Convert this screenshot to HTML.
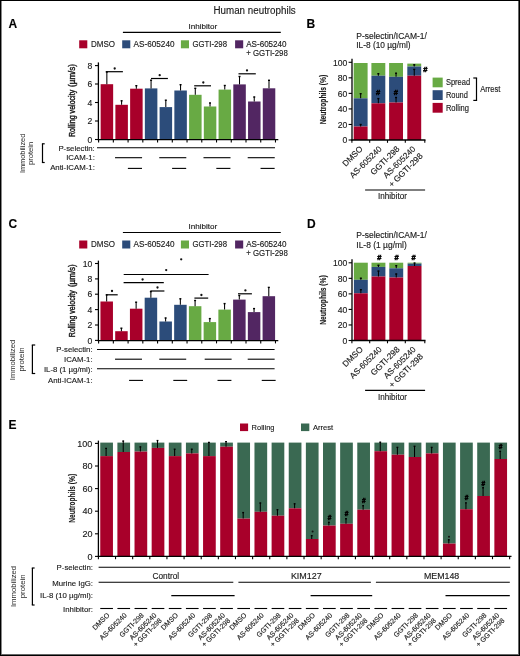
<!DOCTYPE html>
<html><head><meta charset="utf-8"><style>
html,body{margin:0;padding:0;background:#fff;}
#f{position:relative;width:520px;height:656px;overflow:hidden;background:#fff;}
#f svg{position:absolute;left:0;top:0;filter:blur(0.3px);}
text{font-family:"Liberation Sans", sans-serif;stroke:#1a1a1a;stroke-width:0.14px;} text.lt{stroke:none;} text.bd{stroke-width:0.4px;} text.hs{stroke:#000;stroke-width:0.5px;}
#bt{position:absolute;left:0;top:0;width:520px;height:1px;background:#000;}
#bl{position:absolute;left:0;top:0;width:1px;height:656px;background:#000;}
#bl2{position:absolute;left:1px;top:0;width:1px;height:656px;background:#888;}
#br{position:absolute;right:0;top:0;width:1px;height:656px;background:#000;}
#br2{position:absolute;right:1px;top:0;width:1px;height:656px;background:#666;}
#bb{position:absolute;left:0;bottom:0;width:520px;height:1px;background:#000;}
#bb2{position:absolute;left:0;bottom:1px;width:520px;height:1px;background:#666;}
</style></head><body><div id="f">
<svg width="520" height="656" viewBox="0 0 520 656">
<text x="8.60" y="27.60" font-size="12" text-anchor="start" fill="#000" font-weight="bold">A</text>
<text x="213.50" y="13.60" font-size="10" text-anchor="start" fill="#1a1a1a" textLength="82.20" lengthAdjust="spacingAndGlyphs">Human neutrophils</text>
<text x="188.50" y="28.90" font-size="8" text-anchor="start" fill="#1a1a1a" textLength="28.80" lengthAdjust="spacingAndGlyphs">Inhibitor</text>
<line x1="122.90" y1="32.30" x2="280.80" y2="32.30" stroke="#000" stroke-width="1.2"/>
<rect x="79.20" y="40.30" width="8.10" height="8.00" fill="#a8002a"/>
<rect x="122.20" y="40.30" width="8.10" height="8.00" fill="#2c4c7a"/>
<rect x="180.90" y="40.30" width="8.10" height="8.00" fill="#68aa44"/>
<rect x="235.10" y="40.30" width="8.10" height="8.00" fill="#522662"/>
<text x="91.00" y="47.10" font-size="8.5" text-anchor="start" fill="#1a1a1a" textLength="24.00" lengthAdjust="spacingAndGlyphs">DMSO</text>
<text x="133.50" y="47.10" font-size="8.5" text-anchor="start" fill="#1a1a1a" textLength="41.00" lengthAdjust="spacingAndGlyphs">AS-605240</text>
<text x="192.40" y="47.10" font-size="8.5" text-anchor="start" fill="#1a1a1a" textLength="34.60" lengthAdjust="spacingAndGlyphs">GGTI-298</text>
<text x="246.20" y="47.10" font-size="8.5" text-anchor="start" fill="#1a1a1a" textLength="40.40" lengthAdjust="spacingAndGlyphs">AS-605240</text>
<text x="246.20" y="56.10" font-size="8.5" text-anchor="start" fill="#1a1a1a" textLength="41.60" lengthAdjust="spacingAndGlyphs">+ GGTI-298</text>
<rect x="100.65" y="84.20" width="12.50" height="55.50" fill="#a8002a"/>
<rect x="115.39" y="104.80" width="12.50" height="34.90" fill="#a8002a"/>
<rect x="130.13" y="88.70" width="12.50" height="51.00" fill="#a8002a"/>
<rect x="144.87" y="88.40" width="12.50" height="51.30" fill="#2c4c7a"/>
<rect x="159.61" y="107.10" width="12.50" height="32.60" fill="#2c4c7a"/>
<rect x="174.35" y="90.50" width="12.50" height="49.20" fill="#2c4c7a"/>
<rect x="189.09" y="94.80" width="12.50" height="44.90" fill="#68aa44"/>
<rect x="203.83" y="106.50" width="12.50" height="33.20" fill="#68aa44"/>
<rect x="218.57" y="89.60" width="12.50" height="50.10" fill="#68aa44"/>
<rect x="233.31" y="84.40" width="12.50" height="55.30" fill="#522662"/>
<rect x="248.05" y="101.50" width="12.50" height="38.20" fill="#522662"/>
<rect x="262.79" y="88.30" width="12.50" height="51.40" fill="#522662"/>
<line x1="106.85" y1="84.20" x2="106.85" y2="71.70" stroke="#000" stroke-width="1.05"/>
<line x1="105.85" y1="72.00" x2="107.85" y2="72.00" stroke="#000" stroke-width="1.4"/>
<line x1="121.59" y1="104.80" x2="121.59" y2="100.50" stroke="#000" stroke-width="1.05"/>
<line x1="120.59" y1="100.80" x2="122.59" y2="100.80" stroke="#000" stroke-width="1.4"/>
<line x1="136.33" y1="88.70" x2="136.33" y2="85.40" stroke="#000" stroke-width="1.05"/>
<line x1="135.33" y1="85.70" x2="137.33" y2="85.70" stroke="#000" stroke-width="1.4"/>
<line x1="151.07" y1="88.40" x2="151.07" y2="79.90" stroke="#000" stroke-width="1.05"/>
<line x1="150.07" y1="80.20" x2="152.07" y2="80.20" stroke="#000" stroke-width="1.4"/>
<line x1="165.81" y1="107.10" x2="165.81" y2="99.90" stroke="#000" stroke-width="1.05"/>
<line x1="164.81" y1="100.20" x2="166.81" y2="100.20" stroke="#000" stroke-width="1.4"/>
<line x1="180.55" y1="90.50" x2="180.55" y2="84.40" stroke="#000" stroke-width="1.05"/>
<line x1="179.55" y1="84.70" x2="181.55" y2="84.70" stroke="#000" stroke-width="1.4"/>
<line x1="195.29" y1="94.80" x2="195.29" y2="88.00" stroke="#000" stroke-width="1.05"/>
<line x1="194.29" y1="88.30" x2="196.29" y2="88.30" stroke="#000" stroke-width="1.4"/>
<line x1="210.03" y1="106.50" x2="210.03" y2="102.70" stroke="#000" stroke-width="1.05"/>
<line x1="209.03" y1="103.00" x2="211.03" y2="103.00" stroke="#000" stroke-width="1.4"/>
<line x1="224.77" y1="89.60" x2="224.77" y2="85.20" stroke="#000" stroke-width="1.05"/>
<line x1="223.77" y1="85.50" x2="225.77" y2="85.50" stroke="#000" stroke-width="1.4"/>
<line x1="239.51" y1="84.40" x2="239.51" y2="76.20" stroke="#000" stroke-width="1.05"/>
<line x1="238.51" y1="76.50" x2="240.51" y2="76.50" stroke="#000" stroke-width="1.4"/>
<line x1="254.25" y1="101.50" x2="254.25" y2="96.70" stroke="#000" stroke-width="1.05"/>
<line x1="253.25" y1="97.00" x2="255.25" y2="97.00" stroke="#000" stroke-width="1.4"/>
<line x1="268.99" y1="88.30" x2="268.99" y2="80.00" stroke="#000" stroke-width="1.05"/>
<line x1="267.99" y1="80.30" x2="269.99" y2="80.30" stroke="#000" stroke-width="1.4"/>
<line x1="98.40" y1="62.40" x2="98.40" y2="140.30" stroke="#000" stroke-width="1.3"/>
<line x1="97.80" y1="139.70" x2="278.30" y2="139.70" stroke="#000" stroke-width="1.3"/>
<line x1="95.00" y1="65.60" x2="98.40" y2="65.60" stroke="#000" stroke-width="1.1"/>
<text x="92.20" y="68.70" font-size="8.6" text-anchor="end" fill="#1a1a1a">8</text>
<line x1="95.00" y1="84.00" x2="98.40" y2="84.00" stroke="#000" stroke-width="1.1"/>
<text x="92.20" y="87.10" font-size="8.6" text-anchor="end" fill="#1a1a1a">6</text>
<line x1="95.00" y1="102.50" x2="98.40" y2="102.50" stroke="#000" stroke-width="1.1"/>
<text x="92.20" y="105.60" font-size="8.6" text-anchor="end" fill="#1a1a1a">4</text>
<line x1="95.00" y1="121.00" x2="98.40" y2="121.00" stroke="#000" stroke-width="1.1"/>
<text x="92.20" y="124.10" font-size="8.6" text-anchor="end" fill="#1a1a1a">2</text>
<line x1="95.00" y1="139.50" x2="98.40" y2="139.50" stroke="#000" stroke-width="1.1"/>
<text x="92.20" y="142.60" font-size="8.6" text-anchor="end" fill="#1a1a1a">0</text>
<line x1="98.60" y1="139.70" x2="98.60" y2="142.50" stroke="#000" stroke-width="1.1"/>
<line x1="113.34" y1="139.70" x2="113.34" y2="142.50" stroke="#000" stroke-width="1.1"/>
<line x1="128.08" y1="139.70" x2="128.08" y2="142.50" stroke="#000" stroke-width="1.1"/>
<line x1="142.82" y1="139.70" x2="142.82" y2="142.50" stroke="#000" stroke-width="1.1"/>
<line x1="157.56" y1="139.70" x2="157.56" y2="142.50" stroke="#000" stroke-width="1.1"/>
<line x1="172.30" y1="139.70" x2="172.30" y2="142.50" stroke="#000" stroke-width="1.1"/>
<line x1="187.04" y1="139.70" x2="187.04" y2="142.50" stroke="#000" stroke-width="1.1"/>
<line x1="201.78" y1="139.70" x2="201.78" y2="142.50" stroke="#000" stroke-width="1.1"/>
<line x1="216.52" y1="139.70" x2="216.52" y2="142.50" stroke="#000" stroke-width="1.1"/>
<line x1="231.26" y1="139.70" x2="231.26" y2="142.50" stroke="#000" stroke-width="1.1"/>
<line x1="246.00" y1="139.70" x2="246.00" y2="142.50" stroke="#000" stroke-width="1.1"/>
<line x1="260.74" y1="139.70" x2="260.74" y2="142.50" stroke="#000" stroke-width="1.1"/>
<line x1="275.48" y1="139.70" x2="275.48" y2="142.50" stroke="#000" stroke-width="1.1"/>
<line x1="105.80" y1="71.70" x2="122.90" y2="71.70" stroke="#000" stroke-width="1.2"/>
<circle cx="114.70" cy="68.50" r="1.15" fill="#111"/>
<line x1="151.00" y1="78.50" x2="167.90" y2="78.50" stroke="#000" stroke-width="1.2"/>
<circle cx="159.70" cy="75.20" r="1.15" fill="#111"/>
<line x1="194.20" y1="85.80" x2="211.00" y2="85.80" stroke="#000" stroke-width="1.2"/>
<circle cx="203.30" cy="82.50" r="1.15" fill="#111"/>
<line x1="238.50" y1="73.80" x2="255.80" y2="73.80" stroke="#000" stroke-width="1.2"/>
<circle cx="247.00" cy="70.40" r="1.15" fill="#111"/>
<text transform="translate(75.20,137.00) rotate(-90)" font-size="8.8" text-anchor="start" fill="#1a1a1a" class="bd" textLength="47.20" lengthAdjust="spacingAndGlyphs">Rolling velocity</text>
<text transform="translate(75.20,86.90) rotate(-90)" font-size="8.8" text-anchor="start" fill="#1a1a1a" class="bd" textLength="22.90" lengthAdjust="spacingAndGlyphs">(µm/s)</text>
<text transform="translate(25.40,153.40) rotate(-90)" font-size="7.6" text-anchor="middle" fill="#2a2a2a" class="lt" textLength="39.40" lengthAdjust="spacingAndGlyphs">Immobilized</text>
<text transform="translate(33.40,153.40) rotate(-90)" font-size="7.0" text-anchor="middle" fill="#2a2a2a" class="lt" textLength="23.40" lengthAdjust="spacingAndGlyphs">protein</text>
<line x1="42.50" y1="143.80" x2="42.50" y2="162.50" stroke="#000" stroke-width="1.2"/>
<line x1="41.90" y1="143.80" x2="44.70" y2="143.80" stroke="#000" stroke-width="1.2"/>
<line x1="41.90" y1="162.50" x2="44.70" y2="162.50" stroke="#000" stroke-width="1.2"/>
<text x="94.80" y="150.50" font-size="7.8" text-anchor="end" fill="#1a1a1a">P-selectin:</text>
<text x="94.80" y="160.40" font-size="7.8" text-anchor="end" fill="#1a1a1a">ICAM-1:</text>
<text x="94.80" y="170.20" font-size="7.8" text-anchor="end" fill="#1a1a1a">Anti-ICAM-1:</text>
<line x1="97.00" y1="147.70" x2="275.00" y2="147.70" stroke="#000" stroke-width="1.1"/>
<line x1="115.04" y1="157.70" x2="142.08" y2="157.70" stroke="#000" stroke-width="1.1"/>
<line x1="127.88" y1="168.40" x2="141.98" y2="168.40" stroke="#000" stroke-width="1.1"/>
<line x1="159.26" y1="157.70" x2="186.30" y2="157.70" stroke="#000" stroke-width="1.1"/>
<line x1="172.10" y1="168.40" x2="186.20" y2="168.40" stroke="#000" stroke-width="1.1"/>
<line x1="203.48" y1="157.70" x2="230.52" y2="157.70" stroke="#000" stroke-width="1.1"/>
<line x1="216.32" y1="168.40" x2="230.42" y2="168.40" stroke="#000" stroke-width="1.1"/>
<line x1="247.70" y1="157.70" x2="274.74" y2="157.70" stroke="#000" stroke-width="1.1"/>
<line x1="260.54" y1="168.40" x2="274.64" y2="168.40" stroke="#000" stroke-width="1.1"/>
<text x="8.60" y="228.20" font-size="12" text-anchor="start" fill="#000" font-weight="bold">C</text>
<text x="188.50" y="229.10" font-size="8" text-anchor="start" fill="#1a1a1a" textLength="28.80" lengthAdjust="spacingAndGlyphs">Inhibitor</text>
<line x1="122.90" y1="232.50" x2="280.80" y2="232.50" stroke="#000" stroke-width="1.2"/>
<rect x="79.20" y="240.50" width="8.10" height="8.00" fill="#a8002a"/>
<rect x="122.20" y="240.50" width="8.10" height="8.00" fill="#2c4c7a"/>
<rect x="180.90" y="240.50" width="8.10" height="8.00" fill="#68aa44"/>
<rect x="235.10" y="240.50" width="8.10" height="8.00" fill="#522662"/>
<text x="91.00" y="247.30" font-size="8.5" text-anchor="start" fill="#1a1a1a" textLength="24.00" lengthAdjust="spacingAndGlyphs">DMSO</text>
<text x="133.50" y="247.30" font-size="8.5" text-anchor="start" fill="#1a1a1a" textLength="41.00" lengthAdjust="spacingAndGlyphs">AS-605240</text>
<text x="192.40" y="247.30" font-size="8.5" text-anchor="start" fill="#1a1a1a" textLength="34.60" lengthAdjust="spacingAndGlyphs">GGTI-298</text>
<text x="246.20" y="247.30" font-size="8.5" text-anchor="start" fill="#1a1a1a" textLength="40.40" lengthAdjust="spacingAndGlyphs">AS-605240</text>
<text x="246.20" y="256.30" font-size="8.5" text-anchor="start" fill="#1a1a1a" textLength="41.60" lengthAdjust="spacingAndGlyphs">+ GGTI-298</text>
<rect x="100.45" y="301.50" width="12.50" height="39.10" fill="#a8002a"/>
<rect x="115.19" y="331.20" width="12.50" height="9.40" fill="#a8002a"/>
<rect x="129.93" y="308.70" width="12.50" height="31.90" fill="#a8002a"/>
<rect x="144.67" y="297.70" width="12.50" height="42.90" fill="#2c4c7a"/>
<rect x="159.41" y="321.50" width="12.50" height="19.10" fill="#2c4c7a"/>
<rect x="174.15" y="304.80" width="12.50" height="35.80" fill="#2c4c7a"/>
<rect x="188.89" y="306.20" width="12.50" height="34.40" fill="#68aa44"/>
<rect x="203.63" y="322.10" width="12.50" height="18.50" fill="#68aa44"/>
<rect x="218.37" y="309.60" width="12.50" height="31.00" fill="#68aa44"/>
<rect x="233.11" y="299.60" width="12.50" height="41.00" fill="#522662"/>
<rect x="247.85" y="312.10" width="12.50" height="28.50" fill="#522662"/>
<rect x="262.59" y="296.20" width="12.50" height="44.40" fill="#522662"/>
<line x1="106.65" y1="301.50" x2="106.65" y2="294.60" stroke="#000" stroke-width="1.05"/>
<line x1="105.65" y1="294.90" x2="107.65" y2="294.90" stroke="#000" stroke-width="1.4"/>
<line x1="121.39" y1="331.20" x2="121.39" y2="327.90" stroke="#000" stroke-width="1.05"/>
<line x1="120.39" y1="328.20" x2="122.39" y2="328.20" stroke="#000" stroke-width="1.4"/>
<line x1="136.13" y1="308.70" x2="136.13" y2="301.90" stroke="#000" stroke-width="1.05"/>
<line x1="135.13" y1="302.20" x2="137.13" y2="302.20" stroke="#000" stroke-width="1.4"/>
<line x1="150.87" y1="297.70" x2="150.87" y2="291.30" stroke="#000" stroke-width="1.05"/>
<line x1="149.87" y1="291.60" x2="151.87" y2="291.60" stroke="#000" stroke-width="1.4"/>
<line x1="165.61" y1="321.50" x2="165.61" y2="317.70" stroke="#000" stroke-width="1.05"/>
<line x1="164.61" y1="318.00" x2="166.61" y2="318.00" stroke="#000" stroke-width="1.4"/>
<line x1="180.35" y1="304.80" x2="180.35" y2="298.50" stroke="#000" stroke-width="1.05"/>
<line x1="179.35" y1="298.80" x2="181.35" y2="298.80" stroke="#000" stroke-width="1.4"/>
<line x1="195.09" y1="306.20" x2="195.09" y2="300.20" stroke="#000" stroke-width="1.05"/>
<line x1="194.09" y1="300.50" x2="196.09" y2="300.50" stroke="#000" stroke-width="1.4"/>
<line x1="209.83" y1="322.10" x2="209.83" y2="318.30" stroke="#000" stroke-width="1.05"/>
<line x1="208.83" y1="318.60" x2="210.83" y2="318.60" stroke="#000" stroke-width="1.4"/>
<line x1="224.57" y1="309.60" x2="224.57" y2="303.30" stroke="#000" stroke-width="1.05"/>
<line x1="223.57" y1="303.60" x2="225.57" y2="303.60" stroke="#000" stroke-width="1.4"/>
<line x1="239.31" y1="299.60" x2="239.31" y2="295.20" stroke="#000" stroke-width="1.05"/>
<line x1="238.31" y1="295.50" x2="240.31" y2="295.50" stroke="#000" stroke-width="1.4"/>
<line x1="254.05" y1="312.10" x2="254.05" y2="308.30" stroke="#000" stroke-width="1.05"/>
<line x1="253.05" y1="308.60" x2="255.05" y2="308.60" stroke="#000" stroke-width="1.4"/>
<line x1="268.79" y1="296.20" x2="268.79" y2="287.10" stroke="#000" stroke-width="1.05"/>
<line x1="267.79" y1="287.40" x2="269.79" y2="287.40" stroke="#000" stroke-width="1.4"/>
<line x1="98.40" y1="260.60" x2="98.40" y2="341.20" stroke="#000" stroke-width="1.3"/>
<line x1="97.80" y1="340.60" x2="278.30" y2="340.60" stroke="#000" stroke-width="1.3"/>
<line x1="95.00" y1="263.50" x2="98.40" y2="263.50" stroke="#000" stroke-width="1.1"/>
<text x="92.20" y="266.60" font-size="8.6" text-anchor="end" fill="#1a1a1a">10</text>
<line x1="95.00" y1="278.90" x2="98.40" y2="278.90" stroke="#000" stroke-width="1.1"/>
<text x="92.20" y="282.00" font-size="8.6" text-anchor="end" fill="#1a1a1a">8</text>
<line x1="95.00" y1="294.20" x2="98.40" y2="294.20" stroke="#000" stroke-width="1.1"/>
<text x="92.20" y="297.30" font-size="8.6" text-anchor="end" fill="#1a1a1a">6</text>
<line x1="95.00" y1="309.60" x2="98.40" y2="309.60" stroke="#000" stroke-width="1.1"/>
<text x="92.20" y="312.70" font-size="8.6" text-anchor="end" fill="#1a1a1a">4</text>
<line x1="95.00" y1="325.00" x2="98.40" y2="325.00" stroke="#000" stroke-width="1.1"/>
<text x="92.20" y="328.10" font-size="8.6" text-anchor="end" fill="#1a1a1a">2</text>
<line x1="95.00" y1="340.40" x2="98.40" y2="340.40" stroke="#000" stroke-width="1.1"/>
<text x="92.20" y="343.50" font-size="8.6" text-anchor="end" fill="#1a1a1a">0</text>
<line x1="98.60" y1="340.60" x2="98.60" y2="343.40" stroke="#000" stroke-width="1.1"/>
<line x1="113.34" y1="340.60" x2="113.34" y2="343.40" stroke="#000" stroke-width="1.1"/>
<line x1="128.08" y1="340.60" x2="128.08" y2="343.40" stroke="#000" stroke-width="1.1"/>
<line x1="142.82" y1="340.60" x2="142.82" y2="343.40" stroke="#000" stroke-width="1.1"/>
<line x1="157.56" y1="340.60" x2="157.56" y2="343.40" stroke="#000" stroke-width="1.1"/>
<line x1="172.30" y1="340.60" x2="172.30" y2="343.40" stroke="#000" stroke-width="1.1"/>
<line x1="187.04" y1="340.60" x2="187.04" y2="343.40" stroke="#000" stroke-width="1.1"/>
<line x1="201.78" y1="340.60" x2="201.78" y2="343.40" stroke="#000" stroke-width="1.1"/>
<line x1="216.52" y1="340.60" x2="216.52" y2="343.40" stroke="#000" stroke-width="1.1"/>
<line x1="231.26" y1="340.60" x2="231.26" y2="343.40" stroke="#000" stroke-width="1.1"/>
<line x1="246.00" y1="340.60" x2="246.00" y2="343.40" stroke="#000" stroke-width="1.1"/>
<line x1="260.74" y1="340.60" x2="260.74" y2="343.40" stroke="#000" stroke-width="1.1"/>
<line x1="275.48" y1="340.60" x2="275.48" y2="343.40" stroke="#000" stroke-width="1.1"/>
<line x1="106.20" y1="294.80" x2="117.70" y2="294.80" stroke="#000" stroke-width="1.2"/>
<circle cx="112.00" cy="291.00" r="1.15" fill="#111"/>
<line x1="150.40" y1="291.00" x2="164.40" y2="291.00" stroke="#000" stroke-width="1.2"/>
<circle cx="157.50" cy="287.50" r="1.15" fill="#111"/>
<line x1="194.40" y1="298.10" x2="208.20" y2="298.10" stroke="#000" stroke-width="1.2"/>
<circle cx="201.40" cy="295.00" r="1.15" fill="#111"/>
<line x1="238.00" y1="293.80" x2="251.90" y2="293.80" stroke="#000" stroke-width="1.2"/>
<circle cx="245.40" cy="290.40" r="1.15" fill="#111"/>
<line x1="123.70" y1="274.50" x2="208.60" y2="274.50" stroke="#000" stroke-width="1.2"/>
<circle cx="166.20" cy="270.10" r="1.15" fill="#111"/>
<line x1="123.60" y1="282.60" x2="163.80" y2="282.60" stroke="#000" stroke-width="1.2"/>
<circle cx="142.60" cy="279.50" r="1.15" fill="#111"/>
<circle cx="181.20" cy="259.30" r="1.15" fill="#111"/>
<text transform="translate(75.20,337.20) rotate(-90)" font-size="8.8" text-anchor="start" fill="#1a1a1a" class="bd" textLength="47.00" lengthAdjust="spacingAndGlyphs">Rolling velocity</text>
<text transform="translate(75.20,287.10) rotate(-90)" font-size="8.8" text-anchor="start" fill="#1a1a1a" class="bd" textLength="22.90" lengthAdjust="spacingAndGlyphs">(µm/s)</text>
<text transform="translate(15.20,360.00) rotate(-90)" font-size="7.6" text-anchor="middle" fill="#2a2a2a" class="lt" textLength="40.40" lengthAdjust="spacingAndGlyphs">Immobilized</text>
<text transform="translate(24.00,359.50) rotate(-90)" font-size="7.0" text-anchor="middle" fill="#2a2a2a" class="lt" textLength="24.00" lengthAdjust="spacingAndGlyphs">protein</text>
<line x1="32.40" y1="345.00" x2="32.40" y2="373.50" stroke="#000" stroke-width="1.2"/>
<line x1="31.80" y1="345.00" x2="35.20" y2="345.00" stroke="#000" stroke-width="1.2"/>
<line x1="31.80" y1="373.50" x2="35.20" y2="373.50" stroke="#000" stroke-width="1.2"/>
<text x="92.60" y="352.20" font-size="7.8" text-anchor="end" fill="#1a1a1a">P-selectin:</text>
<text x="92.60" y="361.90" font-size="7.8" text-anchor="end" fill="#1a1a1a">ICAM-1:</text>
<text x="92.60" y="372.40" font-size="7.8" text-anchor="end" fill="#1a1a1a">IL-8 (1 µg/ml):</text>
<text x="92.60" y="383.00" font-size="7.8" text-anchor="end" fill="#1a1a1a">Anti-ICAM-1:</text>
<line x1="97.00" y1="349.50" x2="274.60" y2="349.50" stroke="#000" stroke-width="1.1"/>
<line x1="97.00" y1="368.80" x2="274.60" y2="368.80" stroke="#000" stroke-width="1.1"/>
<line x1="115.04" y1="359.20" x2="141.98" y2="359.20" stroke="#000" stroke-width="1.1"/>
<line x1="129.08" y1="380.40" x2="142.98" y2="380.40" stroke="#000" stroke-width="1.1"/>
<line x1="159.26" y1="359.20" x2="186.20" y2="359.20" stroke="#000" stroke-width="1.1"/>
<line x1="173.30" y1="380.40" x2="187.20" y2="380.40" stroke="#000" stroke-width="1.1"/>
<line x1="204.68" y1="359.20" x2="231.62" y2="359.20" stroke="#000" stroke-width="1.1"/>
<line x1="217.52" y1="380.40" x2="231.42" y2="380.40" stroke="#000" stroke-width="1.1"/>
<line x1="247.70" y1="359.20" x2="274.64" y2="359.20" stroke="#000" stroke-width="1.1"/>
<line x1="261.74" y1="380.40" x2="275.64" y2="380.40" stroke="#000" stroke-width="1.1"/>
<text x="306.50" y="27.60" font-size="12" text-anchor="start" fill="#000" font-weight="bold">B</text>
<rect x="353.70" y="63.00" width="13.90" height="35.30" fill="#68aa44"/>
<rect x="353.70" y="98.30" width="13.90" height="28.20" fill="#2c4c7a"/>
<rect x="353.70" y="126.50" width="13.90" height="13.50" fill="#a8002a"/>
<rect x="371.40" y="63.00" width="13.90" height="12.70" fill="#68aa44"/>
<rect x="371.40" y="75.70" width="13.90" height="27.60" fill="#2c4c7a"/>
<rect x="371.40" y="103.30" width="13.90" height="36.70" fill="#a8002a"/>
<rect x="389.10" y="63.00" width="13.90" height="13.80" fill="#68aa44"/>
<rect x="389.10" y="76.80" width="13.90" height="25.70" fill="#2c4c7a"/>
<rect x="389.10" y="102.50" width="13.90" height="37.50" fill="#a8002a"/>
<rect x="407.30" y="63.60" width="13.90" height="2.90" fill="#68aa44"/>
<rect x="407.30" y="66.50" width="13.90" height="9.20" fill="#2c4c7a"/>
<rect x="407.30" y="75.70" width="13.90" height="64.30" fill="#a8002a"/>
<line x1="360.65" y1="126.50" x2="360.65" y2="124.20" stroke="#000" stroke-width="1.05"/>
<line x1="359.65" y1="124.50" x2="361.65" y2="124.50" stroke="#000" stroke-width="1.4"/>
<line x1="360.65" y1="98.30" x2="360.65" y2="93.40" stroke="#000" stroke-width="1.05"/>
<line x1="359.65" y1="93.70" x2="361.65" y2="93.70" stroke="#000" stroke-width="1.4"/>
<line x1="378.35" y1="103.30" x2="378.35" y2="98.30" stroke="#000" stroke-width="1.05"/>
<line x1="377.35" y1="98.60" x2="379.35" y2="98.60" stroke="#000" stroke-width="1.4"/>
<line x1="378.35" y1="75.70" x2="378.35" y2="73.40" stroke="#000" stroke-width="1.05"/>
<line x1="377.35" y1="73.70" x2="379.35" y2="73.70" stroke="#000" stroke-width="1.4"/>
<line x1="396.05" y1="102.50" x2="396.05" y2="97.20" stroke="#000" stroke-width="1.05"/>
<line x1="395.05" y1="97.50" x2="397.05" y2="97.50" stroke="#000" stroke-width="1.4"/>
<line x1="396.05" y1="76.80" x2="396.05" y2="72.90" stroke="#000" stroke-width="1.05"/>
<line x1="395.05" y1="73.20" x2="397.05" y2="73.20" stroke="#000" stroke-width="1.4"/>
<line x1="414.25" y1="75.70" x2="414.25" y2="69.10" stroke="#000" stroke-width="1.05"/>
<line x1="413.25" y1="69.40" x2="415.25" y2="69.40" stroke="#000" stroke-width="1.4"/>
<line x1="414.25" y1="66.50" x2="414.25" y2="64.50" stroke="#000" stroke-width="1.05"/>
<line x1="413.25" y1="64.80" x2="415.25" y2="64.80" stroke="#000" stroke-width="1.4"/>
<text x="378.20" y="95.30" font-size="7.5" text-anchor="middle" fill="#000" class="hs" font-weight="bold">#</text>
<text x="395.90" y="95.30" font-size="7.5" text-anchor="middle" fill="#000" class="hs" font-weight="bold">#</text>
<text x="425.40" y="72.20" font-size="7.5" text-anchor="middle" fill="#000" class="hs" font-weight="bold">#</text>
<line x1="352.00" y1="58.80" x2="352.00" y2="140.60" stroke="#000" stroke-width="1.3"/>
<line x1="351.40" y1="140.00" x2="425.50" y2="140.00" stroke="#000" stroke-width="1.3"/>
<line x1="348.60" y1="140.00" x2="352.00" y2="140.00" stroke="#000" stroke-width="1.1"/>
<text x="347.30" y="143.40" font-size="8.6" text-anchor="end" fill="#1a1a1a">0</text>
<line x1="348.60" y1="124.46" x2="352.00" y2="124.46" stroke="#000" stroke-width="1.1"/>
<text x="347.30" y="127.86" font-size="8.6" text-anchor="end" fill="#1a1a1a">20</text>
<line x1="348.60" y1="108.92" x2="352.00" y2="108.92" stroke="#000" stroke-width="1.1"/>
<text x="347.30" y="112.32" font-size="8.6" text-anchor="end" fill="#1a1a1a">40</text>
<line x1="348.60" y1="93.38" x2="352.00" y2="93.38" stroke="#000" stroke-width="1.1"/>
<text x="347.30" y="96.78" font-size="8.6" text-anchor="end" fill="#1a1a1a">60</text>
<line x1="348.60" y1="77.84" x2="352.00" y2="77.84" stroke="#000" stroke-width="1.1"/>
<text x="347.30" y="81.24" font-size="8.6" text-anchor="end" fill="#1a1a1a">80</text>
<line x1="348.60" y1="62.30" x2="352.00" y2="62.30" stroke="#000" stroke-width="1.1"/>
<text x="347.30" y="65.70" font-size="8.6" text-anchor="end" fill="#1a1a1a">100</text>
<line x1="351.90" y1="140.00" x2="351.90" y2="142.80" stroke="#000" stroke-width="1.1"/>
<line x1="369.70" y1="140.00" x2="369.70" y2="142.80" stroke="#000" stroke-width="1.1"/>
<line x1="387.50" y1="140.00" x2="387.50" y2="142.80" stroke="#000" stroke-width="1.1"/>
<line x1="405.30" y1="140.00" x2="405.30" y2="142.80" stroke="#000" stroke-width="1.1"/>
<line x1="424.80" y1="140.00" x2="424.80" y2="142.80" stroke="#000" stroke-width="1.1"/>
<text transform="translate(326.30,99.50) rotate(-90)" font-size="8.8" text-anchor="middle" fill="#1a1a1a" font-weight="bold" textLength="49.50" lengthAdjust="spacingAndGlyphs">Neutrophils (%)</text>
<text x="356.30" y="38.50" font-size="8.3" text-anchor="start" fill="#1a1a1a" textLength="70.60" lengthAdjust="spacingAndGlyphs">P-selectin/ICAM-1/</text>
<text x="356.30" y="48.10" font-size="8.3" text-anchor="start" fill="#1a1a1a" textLength="54.30" lengthAdjust="spacingAndGlyphs">IL-8 (10 µg/ml)</text>
<text transform="translate(363.25,149.40) rotate(-45)" font-size="8.3" text-anchor="end" fill="#1a1a1a">DMSO</text>
<text transform="translate(382.25,149.40) rotate(-45)" font-size="8.3" text-anchor="end" fill="#1a1a1a">AS-605240</text>
<text transform="translate(399.95,149.40) rotate(-45)" font-size="8.3" text-anchor="end" fill="#1a1a1a">GGTI-298</text>
<text transform="translate(415.95,149.40) rotate(-45)" font-size="8.3" text-anchor="end" fill="#1a1a1a">AS-605240</text>
<text transform="translate(423.15,156.60) rotate(-45)" font-size="8.3" text-anchor="end" fill="#1a1a1a">+ GGTI-298</text>
<line x1="365.10" y1="190.00" x2="425.10" y2="190.00" stroke="#000" stroke-width="1.2"/>
<text x="378.00" y="199.30" font-size="8.2" text-anchor="start" fill="#1a1a1a" textLength="28.90" lengthAdjust="spacingAndGlyphs">Inhibitor</text>
<rect x="432.60" y="77.60" width="10.10" height="9.70" fill="#68aa44"/>
<rect x="432.60" y="90.20" width="10.10" height="9.80" fill="#2c4c7a"/>
<rect x="432.60" y="102.90" width="10.10" height="9.80" fill="#a8002a"/>
<text x="445.90" y="85.30" font-size="8.4" text-anchor="start" fill="#1a1a1a" textLength="24.20" lengthAdjust="spacingAndGlyphs">Spread</text>
<text x="445.90" y="97.80" font-size="8.4" text-anchor="start" fill="#1a1a1a" textLength="21.90" lengthAdjust="spacingAndGlyphs">Round</text>
<text x="445.90" y="110.80" font-size="8.4" text-anchor="start" fill="#1a1a1a" textLength="23.10" lengthAdjust="spacingAndGlyphs">Rolling</text>
<line x1="476.50" y1="78.00" x2="476.50" y2="100.40" stroke="#000" stroke-width="1.2"/>
<line x1="473.30" y1="78.00" x2="477.10" y2="78.00" stroke="#000" stroke-width="1.2"/>
<line x1="473.30" y1="100.40" x2="477.10" y2="100.40" stroke="#000" stroke-width="1.2"/>
<text x="480.20" y="92.00" font-size="8.4" text-anchor="start" fill="#1a1a1a" textLength="20.20" lengthAdjust="spacingAndGlyphs">Arrest</text>
<text x="306.90" y="228.20" font-size="12" text-anchor="start" fill="#000" font-weight="bold">D</text>
<rect x="353.90" y="262.70" width="13.90" height="17.10" fill="#68aa44"/>
<rect x="353.90" y="279.80" width="13.90" height="13.50" fill="#2c4c7a"/>
<rect x="353.90" y="293.30" width="13.90" height="47.20" fill="#a8002a"/>
<rect x="371.50" y="262.70" width="13.90" height="4.20" fill="#68aa44"/>
<rect x="371.50" y="266.90" width="13.90" height="9.60" fill="#2c4c7a"/>
<rect x="371.50" y="276.50" width="13.90" height="64.00" fill="#a8002a"/>
<rect x="389.30" y="262.70" width="13.90" height="5.60" fill="#68aa44"/>
<rect x="389.30" y="268.30" width="13.90" height="9.20" fill="#2c4c7a"/>
<rect x="389.30" y="277.50" width="13.90" height="63.00" fill="#a8002a"/>
<rect x="407.60" y="262.70" width="13.90" height="0.90" fill="#68aa44"/>
<rect x="407.60" y="263.60" width="13.90" height="2.40" fill="#2c4c7a"/>
<rect x="407.60" y="266.00" width="13.90" height="74.50" fill="#a8002a"/>
<line x1="360.85" y1="293.30" x2="360.85" y2="289.40" stroke="#000" stroke-width="1.05"/>
<line x1="359.85" y1="289.70" x2="361.85" y2="289.70" stroke="#000" stroke-width="1.4"/>
<line x1="360.85" y1="279.80" x2="360.85" y2="277.90" stroke="#000" stroke-width="1.05"/>
<line x1="359.85" y1="278.20" x2="361.85" y2="278.20" stroke="#000" stroke-width="1.4"/>
<line x1="378.45" y1="276.50" x2="378.45" y2="270.80" stroke="#000" stroke-width="1.05"/>
<line x1="377.45" y1="271.10" x2="379.45" y2="271.10" stroke="#000" stroke-width="1.4"/>
<line x1="378.45" y1="266.90" x2="378.45" y2="265.00" stroke="#000" stroke-width="1.05"/>
<line x1="377.45" y1="265.30" x2="379.45" y2="265.30" stroke="#000" stroke-width="1.4"/>
<line x1="396.25" y1="277.50" x2="396.25" y2="273.70" stroke="#000" stroke-width="1.05"/>
<line x1="395.25" y1="274.00" x2="397.25" y2="274.00" stroke="#000" stroke-width="1.4"/>
<line x1="396.25" y1="268.30" x2="396.25" y2="265.40" stroke="#000" stroke-width="1.05"/>
<line x1="395.25" y1="265.70" x2="397.25" y2="265.70" stroke="#000" stroke-width="1.4"/>
<line x1="414.55" y1="266.00" x2="414.55" y2="262.80" stroke="#000" stroke-width="1.05"/>
<line x1="413.55" y1="263.10" x2="415.55" y2="263.10" stroke="#000" stroke-width="1.4"/>
<text x="379.40" y="260.00" font-size="7.5" text-anchor="middle" fill="#000" class="hs" font-weight="bold">#</text>
<text x="396.70" y="260.00" font-size="7.5" text-anchor="middle" fill="#000" class="hs" font-weight="bold">#</text>
<text x="413.60" y="260.00" font-size="7.5" text-anchor="middle" fill="#000" class="hs" font-weight="bold">#</text>
<line x1="352.00" y1="259.30" x2="352.00" y2="341.10" stroke="#000" stroke-width="1.3"/>
<line x1="351.40" y1="340.50" x2="425.50" y2="340.50" stroke="#000" stroke-width="1.3"/>
<line x1="348.60" y1="340.50" x2="352.00" y2="340.50" stroke="#000" stroke-width="1.1"/>
<text x="347.30" y="343.90" font-size="8.6" text-anchor="end" fill="#1a1a1a">0</text>
<line x1="348.60" y1="324.96" x2="352.00" y2="324.96" stroke="#000" stroke-width="1.1"/>
<text x="347.30" y="328.36" font-size="8.6" text-anchor="end" fill="#1a1a1a">20</text>
<line x1="348.60" y1="309.42" x2="352.00" y2="309.42" stroke="#000" stroke-width="1.1"/>
<text x="347.30" y="312.82" font-size="8.6" text-anchor="end" fill="#1a1a1a">40</text>
<line x1="348.60" y1="293.88" x2="352.00" y2="293.88" stroke="#000" stroke-width="1.1"/>
<text x="347.30" y="297.28" font-size="8.6" text-anchor="end" fill="#1a1a1a">60</text>
<line x1="348.60" y1="278.34" x2="352.00" y2="278.34" stroke="#000" stroke-width="1.1"/>
<text x="347.30" y="281.74" font-size="8.6" text-anchor="end" fill="#1a1a1a">80</text>
<line x1="348.60" y1="262.80" x2="352.00" y2="262.80" stroke="#000" stroke-width="1.1"/>
<text x="347.30" y="266.20" font-size="8.6" text-anchor="end" fill="#1a1a1a">100</text>
<line x1="351.90" y1="340.50" x2="351.90" y2="343.30" stroke="#000" stroke-width="1.1"/>
<line x1="369.70" y1="340.50" x2="369.70" y2="343.30" stroke="#000" stroke-width="1.1"/>
<line x1="387.50" y1="340.50" x2="387.50" y2="343.30" stroke="#000" stroke-width="1.1"/>
<line x1="405.30" y1="340.50" x2="405.30" y2="343.30" stroke="#000" stroke-width="1.1"/>
<line x1="424.80" y1="340.50" x2="424.80" y2="343.30" stroke="#000" stroke-width="1.1"/>
<text transform="translate(326.30,300.00) rotate(-90)" font-size="8.8" text-anchor="middle" fill="#1a1a1a" font-weight="bold" textLength="49.50" lengthAdjust="spacingAndGlyphs">Neutrophils (%)</text>
<text x="356.30" y="238.20" font-size="8.3" text-anchor="start" fill="#1a1a1a" textLength="70.60" lengthAdjust="spacingAndGlyphs">P-selectin/ICAM-1/</text>
<text x="356.30" y="247.80" font-size="8.3" text-anchor="start" fill="#1a1a1a" textLength="50.50" lengthAdjust="spacingAndGlyphs">IL-8 (1 µg/ml)</text>
<text transform="translate(363.45,349.90) rotate(-45)" font-size="8.3" text-anchor="end" fill="#1a1a1a">DMSO</text>
<text transform="translate(382.35,349.90) rotate(-45)" font-size="8.3" text-anchor="end" fill="#1a1a1a">AS-605240</text>
<text transform="translate(400.15,349.90) rotate(-45)" font-size="8.3" text-anchor="end" fill="#1a1a1a">GGTI-298</text>
<text transform="translate(416.25,349.90) rotate(-45)" font-size="8.3" text-anchor="end" fill="#1a1a1a">AS-605240</text>
<text transform="translate(423.45,357.10) rotate(-45)" font-size="8.3" text-anchor="end" fill="#1a1a1a">+ GGTI-298</text>
<line x1="365.10" y1="390.40" x2="425.10" y2="390.40" stroke="#000" stroke-width="1.2"/>
<text x="378.00" y="399.70" font-size="8.2" text-anchor="start" fill="#1a1a1a" textLength="28.90" lengthAdjust="spacingAndGlyphs">Inhibitor</text>
<text x="8.60" y="428.80" font-size="12" text-anchor="start" fill="#000" font-weight="bold">E</text>
<rect x="240.00" y="423.50" width="8.10" height="7.60" fill="#a8002a"/>
<text x="251.60" y="430.40" font-size="8" text-anchor="start" fill="#1a1a1a" textLength="22.90" lengthAdjust="spacingAndGlyphs">Rolling</text>
<rect x="301.00" y="423.50" width="8.30" height="7.60" fill="#3a6952"/>
<text x="313.00" y="430.40" font-size="8" text-anchor="start" fill="#1a1a1a" textLength="20.20" lengthAdjust="spacingAndGlyphs">Arrest</text>
<rect x="100.25" y="442.60" width="12.70" height="13.50" fill="#3a6952"/>
<rect x="100.25" y="456.10" width="12.70" height="100.30" fill="#a8002a"/>
<rect x="117.39" y="442.60" width="12.70" height="9.40" fill="#3a6952"/>
<rect x="117.39" y="452.00" width="12.70" height="104.40" fill="#a8002a"/>
<rect x="134.52" y="442.60" width="12.70" height="9.00" fill="#3a6952"/>
<rect x="134.52" y="451.60" width="12.70" height="104.80" fill="#a8002a"/>
<rect x="151.66" y="442.60" width="12.70" height="5.30" fill="#3a6952"/>
<rect x="151.66" y="447.90" width="12.70" height="108.50" fill="#a8002a"/>
<rect x="168.79" y="442.60" width="12.70" height="13.50" fill="#3a6952"/>
<rect x="168.79" y="456.10" width="12.70" height="100.30" fill="#a8002a"/>
<rect x="185.93" y="442.60" width="12.70" height="10.80" fill="#3a6952"/>
<rect x="185.93" y="453.40" width="12.70" height="103.00" fill="#a8002a"/>
<rect x="203.06" y="442.60" width="12.70" height="13.50" fill="#3a6952"/>
<rect x="203.06" y="456.10" width="12.70" height="100.30" fill="#a8002a"/>
<rect x="220.19" y="442.60" width="12.70" height="4.10" fill="#3a6952"/>
<rect x="220.19" y="446.70" width="12.70" height="109.70" fill="#a8002a"/>
<rect x="237.33" y="442.60" width="12.70" height="76.00" fill="#3a6952"/>
<rect x="237.33" y="518.60" width="12.70" height="37.80" fill="#a8002a"/>
<rect x="254.47" y="442.60" width="12.70" height="69.20" fill="#3a6952"/>
<rect x="254.47" y="511.80" width="12.70" height="44.60" fill="#a8002a"/>
<rect x="271.60" y="442.60" width="12.70" height="73.10" fill="#3a6952"/>
<rect x="271.60" y="515.70" width="12.70" height="40.70" fill="#a8002a"/>
<rect x="288.74" y="442.60" width="12.70" height="65.70" fill="#3a6952"/>
<rect x="288.74" y="508.30" width="12.70" height="48.10" fill="#a8002a"/>
<rect x="305.87" y="442.60" width="12.70" height="96.40" fill="#3a6952"/>
<rect x="305.87" y="539.00" width="12.70" height="17.40" fill="#a8002a"/>
<rect x="323.00" y="442.60" width="12.70" height="83.00" fill="#3a6952"/>
<rect x="323.00" y="525.60" width="12.70" height="30.80" fill="#a8002a"/>
<rect x="340.14" y="442.60" width="12.70" height="81.20" fill="#3a6952"/>
<rect x="340.14" y="523.80" width="12.70" height="32.60" fill="#a8002a"/>
<rect x="357.28" y="442.60" width="12.70" height="67.10" fill="#3a6952"/>
<rect x="357.28" y="509.70" width="12.70" height="46.70" fill="#a8002a"/>
<rect x="374.41" y="442.60" width="12.70" height="8.60" fill="#3a6952"/>
<rect x="374.41" y="451.20" width="12.70" height="105.20" fill="#a8002a"/>
<rect x="391.55" y="442.60" width="12.70" height="12.10" fill="#3a6952"/>
<rect x="391.55" y="454.70" width="12.70" height="101.70" fill="#a8002a"/>
<rect x="408.68" y="442.60" width="12.70" height="14.40" fill="#3a6952"/>
<rect x="408.68" y="457.00" width="12.70" height="99.40" fill="#a8002a"/>
<rect x="425.82" y="442.60" width="12.70" height="10.80" fill="#3a6952"/>
<rect x="425.82" y="453.40" width="12.70" height="103.00" fill="#a8002a"/>
<rect x="442.95" y="442.60" width="12.70" height="101.00" fill="#3a6952"/>
<rect x="442.95" y="543.60" width="12.70" height="12.80" fill="#a8002a"/>
<rect x="460.09" y="442.60" width="12.70" height="66.60" fill="#3a6952"/>
<rect x="460.09" y="509.20" width="12.70" height="47.20" fill="#a8002a"/>
<rect x="477.22" y="442.60" width="12.70" height="53.40" fill="#3a6952"/>
<rect x="477.22" y="496.00" width="12.70" height="60.40" fill="#a8002a"/>
<rect x="494.36" y="442.60" width="12.70" height="16.40" fill="#3a6952"/>
<rect x="494.36" y="459.00" width="12.70" height="97.40" fill="#a8002a"/>
<line x1="106.10" y1="456.10" x2="106.10" y2="448.10" stroke="#000" stroke-width="1.05"/>
<line x1="105.20" y1="448.40" x2="107.00" y2="448.40" stroke="#000" stroke-width="1.4"/>
<line x1="123.23" y1="452.00" x2="123.23" y2="440.80" stroke="#000" stroke-width="1.05"/>
<line x1="122.33" y1="441.10" x2="124.14" y2="441.10" stroke="#000" stroke-width="1.4"/>
<line x1="140.37" y1="451.60" x2="140.37" y2="446.60" stroke="#000" stroke-width="1.05"/>
<line x1="139.47" y1="446.90" x2="141.27" y2="446.90" stroke="#000" stroke-width="1.4"/>
<line x1="157.50" y1="447.90" x2="157.50" y2="440.30" stroke="#000" stroke-width="1.05"/>
<line x1="156.60" y1="440.60" x2="158.41" y2="440.60" stroke="#000" stroke-width="1.4"/>
<line x1="174.64" y1="456.10" x2="174.64" y2="448.90" stroke="#000" stroke-width="1.05"/>
<line x1="173.74" y1="449.20" x2="175.54" y2="449.20" stroke="#000" stroke-width="1.4"/>
<line x1="191.78" y1="453.40" x2="191.78" y2="448.90" stroke="#000" stroke-width="1.05"/>
<line x1="190.88" y1="449.20" x2="192.68" y2="449.20" stroke="#000" stroke-width="1.4"/>
<line x1="208.91" y1="456.10" x2="208.91" y2="442.10" stroke="#000" stroke-width="1.05"/>
<line x1="208.01" y1="442.40" x2="209.81" y2="442.40" stroke="#000" stroke-width="1.4"/>
<line x1="226.04" y1="446.70" x2="226.04" y2="441.30" stroke="#000" stroke-width="1.05"/>
<line x1="225.14" y1="441.60" x2="226.94" y2="441.60" stroke="#000" stroke-width="1.4"/>
<line x1="243.18" y1="518.60" x2="243.18" y2="512.30" stroke="#000" stroke-width="1.05"/>
<line x1="242.28" y1="512.60" x2="244.08" y2="512.60" stroke="#000" stroke-width="1.4"/>
<line x1="260.31" y1="511.80" x2="260.31" y2="502.70" stroke="#000" stroke-width="1.05"/>
<line x1="259.42" y1="503.00" x2="261.21" y2="503.00" stroke="#000" stroke-width="1.4"/>
<line x1="277.45" y1="515.70" x2="277.45" y2="509.40" stroke="#000" stroke-width="1.05"/>
<line x1="276.55" y1="509.70" x2="278.35" y2="509.70" stroke="#000" stroke-width="1.4"/>
<line x1="294.59" y1="508.30" x2="294.59" y2="503.50" stroke="#000" stroke-width="1.05"/>
<line x1="293.69" y1="503.80" x2="295.49" y2="503.80" stroke="#000" stroke-width="1.4"/>
<line x1="311.72" y1="539.00" x2="311.72" y2="535.40" stroke="#000" stroke-width="1.05"/>
<line x1="310.82" y1="535.70" x2="312.62" y2="535.70" stroke="#000" stroke-width="1.4"/>
<line x1="328.86" y1="525.60" x2="328.86" y2="522.00" stroke="#000" stroke-width="1.05"/>
<line x1="327.96" y1="522.30" x2="329.75" y2="522.30" stroke="#000" stroke-width="1.4"/>
<line x1="345.99" y1="523.80" x2="345.99" y2="518.50" stroke="#000" stroke-width="1.05"/>
<line x1="345.09" y1="518.80" x2="346.89" y2="518.80" stroke="#000" stroke-width="1.4"/>
<line x1="363.13" y1="509.70" x2="363.13" y2="505.40" stroke="#000" stroke-width="1.05"/>
<line x1="362.23" y1="505.70" x2="364.03" y2="505.70" stroke="#000" stroke-width="1.4"/>
<line x1="380.26" y1="451.20" x2="380.26" y2="441.90" stroke="#000" stroke-width="1.05"/>
<line x1="379.36" y1="442.20" x2="381.16" y2="442.20" stroke="#000" stroke-width="1.4"/>
<line x1="397.40" y1="454.70" x2="397.40" y2="447.10" stroke="#000" stroke-width="1.05"/>
<line x1="396.50" y1="447.40" x2="398.30" y2="447.40" stroke="#000" stroke-width="1.4"/>
<line x1="414.53" y1="457.00" x2="414.53" y2="446.00" stroke="#000" stroke-width="1.05"/>
<line x1="413.63" y1="446.30" x2="415.43" y2="446.30" stroke="#000" stroke-width="1.4"/>
<line x1="431.67" y1="453.40" x2="431.67" y2="447.10" stroke="#000" stroke-width="1.05"/>
<line x1="430.77" y1="447.40" x2="432.57" y2="447.40" stroke="#000" stroke-width="1.4"/>
<line x1="448.80" y1="543.60" x2="448.80" y2="539.50" stroke="#000" stroke-width="1.05"/>
<line x1="447.90" y1="539.80" x2="449.70" y2="539.80" stroke="#000" stroke-width="1.4"/>
<line x1="465.94" y1="509.20" x2="465.94" y2="502.60" stroke="#000" stroke-width="1.05"/>
<line x1="465.04" y1="502.90" x2="466.84" y2="502.90" stroke="#000" stroke-width="1.4"/>
<line x1="483.07" y1="496.00" x2="483.07" y2="487.40" stroke="#000" stroke-width="1.05"/>
<line x1="482.17" y1="487.70" x2="483.97" y2="487.70" stroke="#000" stroke-width="1.4"/>
<line x1="500.21" y1="459.00" x2="500.21" y2="451.00" stroke="#000" stroke-width="1.05"/>
<line x1="499.31" y1="451.30" x2="501.11" y2="451.30" stroke="#000" stroke-width="1.4"/>
<circle cx="312.60" cy="531.50" r="1.0" fill="#111"/>
<text x="329.50" y="519.94" font-size="6.5" text-anchor="middle" fill="#000" class="hs" font-weight="bold">#</text>
<text x="346.60" y="515.94" font-size="6.5" text-anchor="middle" fill="#000" class="hs" font-weight="bold">#</text>
<text x="363.90" y="503.34" font-size="6.5" text-anchor="middle" fill="#000" class="hs" font-weight="bold">#</text>
<circle cx="449.00" cy="536.80" r="1.0" fill="#111"/>
<text x="466.50" y="499.54" font-size="6.5" text-anchor="middle" fill="#000" class="hs" font-weight="bold">#</text>
<text x="483.40" y="485.74" font-size="6.5" text-anchor="middle" fill="#000" class="hs" font-weight="bold">#</text>
<text x="500.60" y="448.94" font-size="6.5" text-anchor="middle" fill="#000" class="hs" font-weight="bold">#</text>
<line x1="98.40" y1="440.60" x2="98.40" y2="557.00" stroke="#000" stroke-width="1.3"/>
<line x1="97.80" y1="556.40" x2="511.50" y2="556.40" stroke="#000" stroke-width="1.3"/>
<line x1="95.00" y1="556.40" x2="98.40" y2="556.40" stroke="#000" stroke-width="1.1"/>
<text x="92.40" y="559.60" font-size="9.0" text-anchor="end" fill="#1a1a1a">0</text>
<line x1="95.00" y1="533.80" x2="98.40" y2="533.80" stroke="#000" stroke-width="1.1"/>
<text x="92.40" y="537.00" font-size="9.0" text-anchor="end" fill="#1a1a1a">20</text>
<line x1="95.00" y1="511.20" x2="98.40" y2="511.20" stroke="#000" stroke-width="1.1"/>
<text x="92.40" y="514.40" font-size="9.0" text-anchor="end" fill="#1a1a1a">40</text>
<line x1="95.00" y1="488.60" x2="98.40" y2="488.60" stroke="#000" stroke-width="1.1"/>
<text x="92.40" y="491.80" font-size="9.0" text-anchor="end" fill="#1a1a1a">60</text>
<line x1="95.00" y1="466.00" x2="98.40" y2="466.00" stroke="#000" stroke-width="1.1"/>
<text x="92.40" y="469.20" font-size="9.0" text-anchor="end" fill="#1a1a1a">80</text>
<line x1="95.00" y1="443.40" x2="98.40" y2="443.40" stroke="#000" stroke-width="1.1"/>
<text x="92.40" y="446.60" font-size="9.0" text-anchor="end" fill="#1a1a1a">100</text>
<line x1="98.40" y1="556.40" x2="98.40" y2="559.20" stroke="#000" stroke-width="1.1"/>
<line x1="115.54" y1="556.40" x2="115.54" y2="559.20" stroke="#000" stroke-width="1.1"/>
<line x1="132.67" y1="556.40" x2="132.67" y2="559.20" stroke="#000" stroke-width="1.1"/>
<line x1="149.81" y1="556.40" x2="149.81" y2="559.20" stroke="#000" stroke-width="1.1"/>
<line x1="166.94" y1="556.40" x2="166.94" y2="559.20" stroke="#000" stroke-width="1.1"/>
<line x1="184.08" y1="556.40" x2="184.08" y2="559.20" stroke="#000" stroke-width="1.1"/>
<line x1="201.21" y1="556.40" x2="201.21" y2="559.20" stroke="#000" stroke-width="1.1"/>
<line x1="218.35" y1="556.40" x2="218.35" y2="559.20" stroke="#000" stroke-width="1.1"/>
<line x1="235.48" y1="556.40" x2="235.48" y2="559.20" stroke="#000" stroke-width="1.1"/>
<line x1="252.62" y1="556.40" x2="252.62" y2="559.20" stroke="#000" stroke-width="1.1"/>
<line x1="269.75" y1="556.40" x2="269.75" y2="559.20" stroke="#000" stroke-width="1.1"/>
<line x1="286.88" y1="556.40" x2="286.88" y2="559.20" stroke="#000" stroke-width="1.1"/>
<line x1="304.02" y1="556.40" x2="304.02" y2="559.20" stroke="#000" stroke-width="1.1"/>
<line x1="321.16" y1="556.40" x2="321.16" y2="559.20" stroke="#000" stroke-width="1.1"/>
<line x1="338.29" y1="556.40" x2="338.29" y2="559.20" stroke="#000" stroke-width="1.1"/>
<line x1="355.43" y1="556.40" x2="355.43" y2="559.20" stroke="#000" stroke-width="1.1"/>
<line x1="372.56" y1="556.40" x2="372.56" y2="559.20" stroke="#000" stroke-width="1.1"/>
<line x1="389.70" y1="556.40" x2="389.70" y2="559.20" stroke="#000" stroke-width="1.1"/>
<line x1="406.83" y1="556.40" x2="406.83" y2="559.20" stroke="#000" stroke-width="1.1"/>
<line x1="423.97" y1="556.40" x2="423.97" y2="559.20" stroke="#000" stroke-width="1.1"/>
<line x1="441.10" y1="556.40" x2="441.10" y2="559.20" stroke="#000" stroke-width="1.1"/>
<line x1="458.24" y1="556.40" x2="458.24" y2="559.20" stroke="#000" stroke-width="1.1"/>
<line x1="475.37" y1="556.40" x2="475.37" y2="559.20" stroke="#000" stroke-width="1.1"/>
<line x1="492.50" y1="556.40" x2="492.50" y2="559.20" stroke="#000" stroke-width="1.1"/>
<line x1="509.64" y1="556.40" x2="509.64" y2="559.20" stroke="#000" stroke-width="1.1"/>
<text transform="translate(74.90,498.35) rotate(-90)" font-size="8.8" text-anchor="middle" fill="#1a1a1a" font-weight="bold" textLength="48.90" lengthAdjust="spacingAndGlyphs">Neutrophils (%)</text>
<text transform="translate(15.80,586.50) rotate(-90)" font-size="7.6" text-anchor="middle" fill="#2a2a2a" class="lt" textLength="41.20" lengthAdjust="spacingAndGlyphs">Immobilized</text>
<text transform="translate(24.60,586.30) rotate(-90)" font-size="7.0" text-anchor="middle" fill="#2a2a2a" class="lt" textLength="23.90" lengthAdjust="spacingAndGlyphs">protein</text>
<line x1="32.40" y1="568.00" x2="32.40" y2="605.00" stroke="#000" stroke-width="1.2"/>
<line x1="31.80" y1="568.00" x2="34.60" y2="568.00" stroke="#000" stroke-width="1.2"/>
<line x1="31.80" y1="605.00" x2="34.60" y2="605.00" stroke="#000" stroke-width="1.2"/>
<text x="93.00" y="569.70" font-size="7.8" text-anchor="end" fill="#1a1a1a">P-selectin:</text>
<text x="93.00" y="585.60" font-size="7.8" text-anchor="end" fill="#1a1a1a">Murine IgG:</text>
<text x="93.00" y="597.80" font-size="7.8" text-anchor="end" fill="#1a1a1a">IL-8 (10 µg/ml):</text>
<text x="93.00" y="611.50" font-size="7.8" text-anchor="end" fill="#1a1a1a">Inhibitor:</text>
<line x1="98.60" y1="567.20" x2="510.30" y2="567.20" stroke="#000" stroke-width="1.1"/>
<text x="152.50" y="578.80" font-size="8.2" text-anchor="start" fill="#1a1a1a" textLength="26.70" lengthAdjust="spacingAndGlyphs">Control</text>
<text x="290.90" y="578.80" font-size="8.2" text-anchor="start" fill="#1a1a1a" textLength="30.80" lengthAdjust="spacingAndGlyphs">KIM127</text>
<text x="423.90" y="578.80" font-size="8.2" text-anchor="start" fill="#1a1a1a" textLength="35.40" lengthAdjust="spacingAndGlyphs">MEM148</text>
<line x1="98.60" y1="582.30" x2="233.30" y2="582.30" stroke="#000" stroke-width="1.1"/>
<line x1="238.40" y1="582.30" x2="370.90" y2="582.30" stroke="#000" stroke-width="1.1"/>
<line x1="375.90" y1="582.30" x2="509.80" y2="582.30" stroke="#000" stroke-width="1.1"/>
<line x1="171.30" y1="595.60" x2="234.60" y2="595.60" stroke="#000" stroke-width="1.1"/>
<line x1="310.60" y1="595.60" x2="372.20" y2="595.60" stroke="#000" stroke-width="1.1"/>
<line x1="445.50" y1="595.60" x2="509.80" y2="595.60" stroke="#000" stroke-width="1.1"/>
<line x1="100.25" y1="608.50" x2="112.95" y2="608.50" stroke="#000" stroke-width="1.1"/>
<line x1="117.39" y1="608.50" x2="130.09" y2="608.50" stroke="#000" stroke-width="1.1"/>
<line x1="134.52" y1="608.50" x2="147.22" y2="608.50" stroke="#000" stroke-width="1.1"/>
<line x1="151.66" y1="608.50" x2="164.35" y2="608.50" stroke="#000" stroke-width="1.1"/>
<line x1="168.79" y1="608.50" x2="181.49" y2="608.50" stroke="#000" stroke-width="1.1"/>
<line x1="185.93" y1="608.50" x2="198.62" y2="608.50" stroke="#000" stroke-width="1.1"/>
<line x1="203.06" y1="608.50" x2="215.76" y2="608.50" stroke="#000" stroke-width="1.1"/>
<line x1="220.19" y1="608.50" x2="232.89" y2="608.50" stroke="#000" stroke-width="1.1"/>
<line x1="237.33" y1="608.50" x2="250.03" y2="608.50" stroke="#000" stroke-width="1.1"/>
<line x1="254.47" y1="608.50" x2="267.17" y2="608.50" stroke="#000" stroke-width="1.1"/>
<line x1="271.60" y1="608.50" x2="284.30" y2="608.50" stroke="#000" stroke-width="1.1"/>
<line x1="288.74" y1="608.50" x2="301.44" y2="608.50" stroke="#000" stroke-width="1.1"/>
<line x1="305.87" y1="608.50" x2="318.57" y2="608.50" stroke="#000" stroke-width="1.1"/>
<line x1="323.00" y1="608.50" x2="335.70" y2="608.50" stroke="#000" stroke-width="1.1"/>
<line x1="340.14" y1="608.50" x2="352.84" y2="608.50" stroke="#000" stroke-width="1.1"/>
<line x1="357.28" y1="608.50" x2="369.98" y2="608.50" stroke="#000" stroke-width="1.1"/>
<line x1="374.41" y1="608.50" x2="387.11" y2="608.50" stroke="#000" stroke-width="1.1"/>
<line x1="391.55" y1="608.50" x2="404.25" y2="608.50" stroke="#000" stroke-width="1.1"/>
<line x1="408.68" y1="608.50" x2="421.38" y2="608.50" stroke="#000" stroke-width="1.1"/>
<line x1="425.82" y1="608.50" x2="438.52" y2="608.50" stroke="#000" stroke-width="1.1"/>
<line x1="442.95" y1="608.50" x2="455.65" y2="608.50" stroke="#000" stroke-width="1.1"/>
<line x1="460.09" y1="608.50" x2="472.79" y2="608.50" stroke="#000" stroke-width="1.1"/>
<line x1="477.22" y1="608.50" x2="489.92" y2="608.50" stroke="#000" stroke-width="1.1"/>
<line x1="494.36" y1="608.50" x2="507.06" y2="608.50" stroke="#000" stroke-width="1.1"/>
<text transform="translate(110.00,615.70) rotate(-45)" font-size="7.0" text-anchor="end" fill="#1a1a1a">DMSO</text>
<text transform="translate(127.14,615.70) rotate(-45)" font-size="7.0" text-anchor="end" fill="#1a1a1a">AS-605240</text>
<text transform="translate(144.27,615.70) rotate(-45)" font-size="7.0" text-anchor="end" fill="#1a1a1a">GGTI-298</text>
<text transform="translate(157.00,615.70) rotate(-45)" font-size="7.0" text-anchor="end" fill="#1a1a1a">AS-605240</text>
<text transform="translate(162.31,621.00) rotate(-45)" font-size="7.0" text-anchor="end" fill="#1a1a1a">+ GGTI-298</text>
<text transform="translate(178.54,615.70) rotate(-45)" font-size="7.0" text-anchor="end" fill="#1a1a1a">DMSO</text>
<text transform="translate(195.68,615.70) rotate(-45)" font-size="7.0" text-anchor="end" fill="#1a1a1a">AS-605240</text>
<text transform="translate(212.81,615.70) rotate(-45)" font-size="7.0" text-anchor="end" fill="#1a1a1a">GGTI-298</text>
<text transform="translate(225.54,615.70) rotate(-45)" font-size="7.0" text-anchor="end" fill="#1a1a1a">AS-605240</text>
<text transform="translate(230.84,621.00) rotate(-45)" font-size="7.0" text-anchor="end" fill="#1a1a1a">+ GGTI-298</text>
<text transform="translate(247.08,615.70) rotate(-45)" font-size="7.0" text-anchor="end" fill="#1a1a1a">DMSO</text>
<text transform="translate(264.21,615.70) rotate(-45)" font-size="7.0" text-anchor="end" fill="#1a1a1a">AS-605240</text>
<text transform="translate(281.35,615.70) rotate(-45)" font-size="7.0" text-anchor="end" fill="#1a1a1a">GGTI-298</text>
<text transform="translate(294.09,615.70) rotate(-45)" font-size="7.0" text-anchor="end" fill="#1a1a1a">AS-605240</text>
<text transform="translate(299.39,621.00) rotate(-45)" font-size="7.0" text-anchor="end" fill="#1a1a1a">+ GGTI-298</text>
<text transform="translate(315.62,615.70) rotate(-45)" font-size="7.0" text-anchor="end" fill="#1a1a1a">DMSO</text>
<text transform="translate(332.75,615.70) rotate(-45)" font-size="7.0" text-anchor="end" fill="#1a1a1a">AS-605240</text>
<text transform="translate(349.89,615.70) rotate(-45)" font-size="7.0" text-anchor="end" fill="#1a1a1a">GGTI-298</text>
<text transform="translate(362.63,615.70) rotate(-45)" font-size="7.0" text-anchor="end" fill="#1a1a1a">AS-605240</text>
<text transform="translate(367.93,621.00) rotate(-45)" font-size="7.0" text-anchor="end" fill="#1a1a1a">+ GGTI-298</text>
<text transform="translate(384.16,615.70) rotate(-45)" font-size="7.0" text-anchor="end" fill="#1a1a1a">DMSO</text>
<text transform="translate(401.30,615.70) rotate(-45)" font-size="7.0" text-anchor="end" fill="#1a1a1a">AS-605240</text>
<text transform="translate(418.43,615.70) rotate(-45)" font-size="7.0" text-anchor="end" fill="#1a1a1a">GGTI-298</text>
<text transform="translate(431.17,615.70) rotate(-45)" font-size="7.0" text-anchor="end" fill="#1a1a1a">AS-605240</text>
<text transform="translate(436.47,621.00) rotate(-45)" font-size="7.0" text-anchor="end" fill="#1a1a1a">+ GGTI-298</text>
<text transform="translate(452.70,615.70) rotate(-45)" font-size="7.0" text-anchor="end" fill="#1a1a1a">DMSO</text>
<text transform="translate(469.84,615.70) rotate(-45)" font-size="7.0" text-anchor="end" fill="#1a1a1a">AS-605240</text>
<text transform="translate(486.97,615.70) rotate(-45)" font-size="7.0" text-anchor="end" fill="#1a1a1a">GGTI-298</text>
<text transform="translate(499.71,615.70) rotate(-45)" font-size="7.0" text-anchor="end" fill="#1a1a1a">AS-605240</text>
<text transform="translate(505.01,621.00) rotate(-45)" font-size="7.0" text-anchor="end" fill="#1a1a1a">+ GGTI-298</text>
</svg>
<div id="bl2"></div><div id="br2"></div><div id="bb2"></div>
<div id="bt"></div><div id="bl"></div><div id="br"></div><div id="bb"></div>
</div></body></html>
